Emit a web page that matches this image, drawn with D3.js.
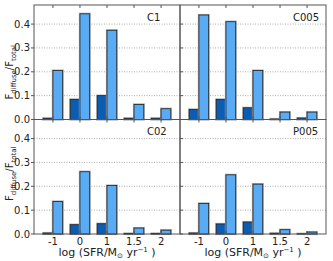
<!DOCTYPE html>
<html><head><meta charset="utf-8">
<script src="https://cdn.jsdelivr.net/npm/d3@7"></script>
<style>body{margin:0;background:#fff}svg{display:block}text{font-family:"DejaVu Sans",sans-serif}</style>
</head><body>
<script>
const categories = ["-1","0","1","1.5","2"];
const panelNames = ["C1","C005","C02","P005"];
const darkC1 = [0.005, 0.084, 0.100, 0.005, 0.005];
const lightC1 = [0.205, 0.443, 0.374, 0.063, 0.045];
const darkC005 = [0.042, 0.084, 0.049, 0.002, 0.006];
const lightC005 = [0.438, 0.410, 0.205, 0.031, 0.031];
const darkC02 = [0.004, 0.039, 0.043, 0.002, 0.002];
const lightC02 = [0.136, 0.261, 0.203, 0.025, 0.016];
const darkP005 = [0.004, 0.042, 0.050, 0.003, 0.001];
const lightP005 = [0.128, 0.248, 0.209, 0.018, 0.008];
const yTicks = [0, 0.1, 0.2, 0.3, 0.4];

const darkSeries = [darkC1, darkC005, darkC02, darkP005];
const lightSeries = [lightC1, lightC005, lightC02, lightP005];

const W = 333, H = 261;
const svg = d3.select("body").append("svg").attr("width", W).attr("height", H);
const L = 34, PW = 146, T = 5, PH = 114.5;
const barW = 0.36;
const cDark = "#0b5cb3", cLight = "#5aabf5";

panelNames.forEach((name, i) => {
  const col = i % 2, row = Math.floor(i / 2);
  const x0 = L + col * PW, y0 = T + row * PH;
  const x = d3.scaleLinear().domain([-0.7, 4.7]).range([x0, x0 + PW]);
  const y = d3.scaleLinear().domain([0, 0.48]).range([y0 + PH, y0]);
  const g = svg.append("g");
  // grid
  g.selectAll(".grid").data(yTicks.slice(1)).join("line")
    .attr("x1", x0).attr("x2", x0 + PW).attr("y1", d => y(d)).attr("y2", d => y(d))
    .attr("stroke", "#999").attr("stroke-width", 0.8).attr("stroke-dasharray", "1,1.5");
  const idx = categories.map((c, k) => k);
  const drawBars = (vals, off, color) => {
    g.selectAll(null).data(idx).join("rect")
      .attr("x", k => x(k + off)).attr("width", x(barW) - x(0))
      .attr("y", k => y(vals[k])).attr("height", k => y(0) - y(vals[k]))
      .attr("fill", "none").attr("stroke", "#aaa").attr("stroke-width", 2.2);
    g.selectAll(null).data(idx).join("rect")
      .attr("x", k => x(k + off)).attr("width", x(barW) - x(0))
      .attr("y", k => y(vals[k])).attr("height", k => y(0) - y(vals[k]))
      .attr("fill", color).attr("stroke", "#222").attr("stroke-width", 0.8);
  };
  drawBars(darkSeries[i], -barW, cDark);
  drawBars(lightSeries[i], 0, cLight);
  // frame
  g.append("rect").attr("x", x0).attr("y", y0).attr("width", PW).attr("height", PH)
    .attr("fill", "none").attr("stroke", "#555").attr("stroke-width", 1);
  // x ticks top & bottom (inward)
  idx.forEach(k => {
    g.append("line").attr("x1", x(k)).attr("x2", x(k)).attr("y1", y0).attr("y2", y0 + 3).attr("stroke", "#555");
    g.append("line").attr("x1", x(k)).attr("x2", x(k)).attr("y1", y0 + PH).attr("y2", y0 + PH - 3).attr("stroke", "#555");
  });
  // y ticks
  yTicks.forEach(t => {
    g.append("line").attr("x1", x0 - (col === 0 ? 3 : 0)).attr("x2", x0 + (col === 0 ? 0 : 3))
      .attr("y1", y(t)).attr("y2", y(t)).attr("stroke", "#555");
  });
  if (col === 0) {
    g.selectAll(null).data(yTicks).join("text")
      .attr("x", x0 - 4).attr("y", d => y(d)).attr("dy", "0.35em")
      .attr("text-anchor", "end").attr("font-size", 10).attr("fill", "#222")
      .text(d3.format(".1f"));
    const yl = g.append("text").attr("font-size", 10).attr("fill", "#222")
      .attr("text-anchor", "middle")
      .attr("transform", `translate(13,${y0 + PH / 2 + (row === 0 ? 10 : -3)}) rotate(-90)`);
    yl.append("tspan").text("F");
    yl.append("tspan").attr("font-size", 7).attr("dy", 3).text("diffuse");
    yl.append("tspan").attr("dy", -3).text("/F");
    yl.append("tspan").attr("font-size", 7).attr("dy", 3).text("total");
  }
  if (row === 1) {
    g.selectAll(null).data(idx).join("text")
      .attr("x", k => x(k)).attr("y", y0 + PH + 11)
      .attr("text-anchor", "middle").attr("font-size", 10).attr("fill", "#222")
      .text(k => categories[k]);
    const xl = g.append("text").attr("x", x0 + PW / 2).attr("y", 256)
      .attr("text-anchor", "middle").attr("font-size", 11).attr("fill", "#222");
    xl.append("tspan").text("log (SFR/M");
    xl.append("tspan").attr("font-size", 7).attr("dy", 2).text("\u2299");
    xl.append("tspan").attr("dy", -2).text(" yr");
    xl.append("tspan").attr("font-size", 7).attr("dy", -4).text("\u22121");
    xl.append("tspan").attr("dy", 4).text(" )");
  }
  g.append("text").attr("x", x0 + 113).attr("y", y0 + 12).attr("dy", "0.35em")
    .attr("font-size", 10).attr("fill", "#222").text(name);
});
</script>
</body></html>
